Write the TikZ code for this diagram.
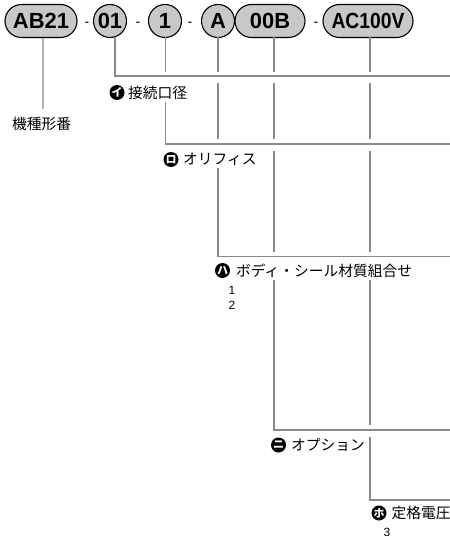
\documentclass[tikz,border=0pt]{standalone}
\usepackage{fontspec}
\setmainfont{Liberation Sans}
\newfontfamily\jp{Noto Sans CJK JP}
\usetikzlibrary{shapes.misc}
\definecolor{pillgray}{HTML}{C8C8C8}
\definecolor{linegray}{HTML}{8A8A8A}
\begin{document}
\begin{tikzpicture}[x=1bp,y=-1bp,
  pillbox/.style={draw=black, line width=1.1bp, fill=pillgray, rounded rectangle,
    minimum height=33bp, inner sep=0pt, font=\fontsize{22}{22}\selectfont\bfseries},
  roundbox/.style={draw=black, line width=1.1bp, fill=pillgray, circle,
    minimum size=33bp, inner sep=0pt, font=\fontsize{22}{22}\selectfont\bfseries},
  dashtxt/.style={anchor=base, inner sep=0pt, font=\fontsize{14}{14}\selectfont},
  conn/.style={draw=linegray, line width=1.2bp},
  icon/.style={circle, fill=black, minimum size=15bp, inner sep=0pt, text=white,
    font=\jp\bfseries\fontsize{11}{11}\selectfont},
  lbl/.style={anchor=west, inner sep=0pt, font=\jp\fontsize{14.8}{14.8}\selectfont},
  num/.style={inner sep=0pt, font=\fontsize{12}{12}\selectfont}]
\useasboundingbox (0,0) rectangle (450,541);

% pills
\node[pillbox, minimum width=72bp] (pAB) at (41,21) {AB21};
\node[roundbox] (p01) at (110,21) {01};
\node[roundbox] (p1) at (165,21) {1};
\node[roundbox] (pA) at (218,21) {A};
\node[pillbox, minimum width=70bp] (p00B) at (270,21) {00B};
\node[pillbox, minimum width=90bp] (pAC) at (368,21) {\scalebox{0.88}[1]{AC100V}};

\node[dashtxt] (d1) at (87,27) {-};
\node[dashtxt] (d2) at (138,27) {-};
\node[dashtxt] (d3) at (190,27) {-};
\node[dashtxt] (d4) at (316,27) {-};

% labels
\node[lbl] (lAB) at (12,123.5) {機種形番};

\node[icon] (iI) at (117,92.5) {イ};
\node[lbl] (lI) at (128,92.5) {接続口径};

\node[icon] (iRo) at (171,159.5) {ロ};
\node[lbl] (lRo) at (183,159.5) {オリフィス};

\node[icon] (iHa) at (222.5,270.5) {ハ};
\node[lbl] (lHa) at (236,270.5) {ボディ・シール材質組合せ};
\node[num] (n1) at (232,290) {1};
\node[num] (n2) at (232,305.5) {2};

\node[icon] (iNi) at (278.5,445) {ニ};
\node[lbl] (lNi) at (291,445) {オプション};

\node[icon] (iHo) at (379,513) {ホ};
\node[lbl] (lHo) at (391.5,513) {定格電圧};
\node[num] (n3) at (387,532) {3};

% right-edge end points
\coordinate (e1) at (450,76);
\coordinate (e2) at (450,144);
\coordinate (e3) at (450,256.5);
\coordinate (e4) at (450,430);
\coordinate (e5) at (450,500);

% connectors
\draw[conn] ([xshift=2bp]pAB.south) -- (43,109);
\draw[conn] (115,37.5) -- (115,76) -- (e1);
\draw[conn] (165.5,37.5) -- (165.5,72) (165.5,102) -- (165.5,144) -- (e2);
\draw[conn] (218,37.5) -- (218,72) (218,83) -- (218,139.5) (218,168) -- (218,256.5) -- (e3);
\draw[conn] (274,37.5) -- (274,72) (274,83) -- (274,139.5) (274,151) -- (274,252)
  (274,280) -- (274,430) -- (e4);
\draw[conn] (370,37.5) -- (370,72) (370,83) -- (370,139.5) (370,151) -- (370,252)
  (370,280) -- (370,424.5) (370,437) -- (370,500) -- (e5);
\end{tikzpicture}
\end{document}
